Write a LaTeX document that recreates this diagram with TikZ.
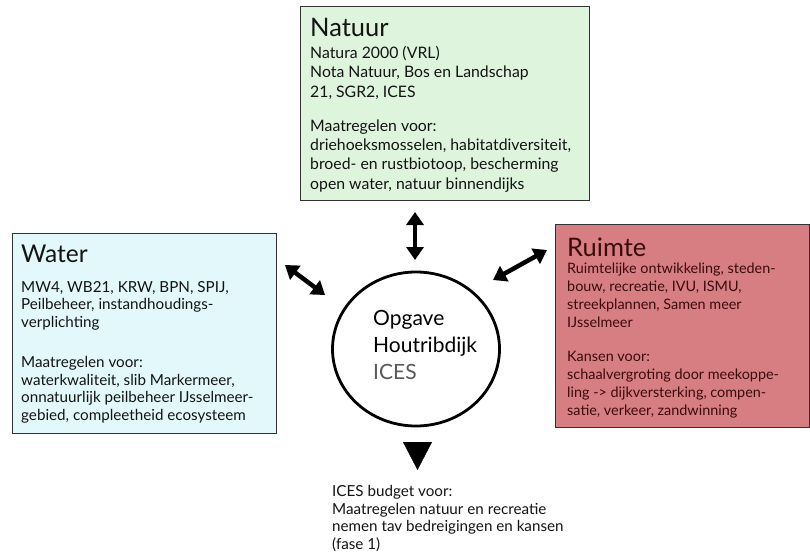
\documentclass[tikz,border=0pt]{standalone}
\usepackage{fontspec}
\setmainfont{Lato}
\usetikzlibrary{arrows.meta, shapes.geometric, positioning}
\definecolor{natuurgreen}{RGB}{222,244,221}
\definecolor{watercyan}{RGB}{226,248,250}
\definecolor{ruimtered}{RGB}{214,126,130}
\definecolor{ruimtetext}{RGB}{60,10,10}
\definecolor{boxline}{RGB}{50,50,50}
\definecolor{inktext}{RGB}{20,20,20}

\begin{document}
\begin{tikzpicture}[x=1pt, y=-1pt, text=inktext,
  themabox/.style={draw=boxline, line width=1.3pt, inner sep=0pt, anchor=north west},
  titletext/.style={font=\fontsize{25.5}{28}\selectfont, inner sep=0pt, anchor=north west},
  bodytext/.style={font=\fontsize{15.2}{17.7}\selectfont, align=left, inner sep=0pt, anchor=north west},
  linkarrow/.style={line width=4.5pt, {Triangle[length=13pt,width=17pt]}-{Triangle[length=13pt,width=17pt]}},
  downtip/.style={line width=0.4pt, -{Triangle[length=28pt,width=29pt]}}]
  \useasboundingbox (0,0) rectangle (810,556);

  % de drie themablokken
  \node[themabox, fill=natuurgreen, minimum width=289pt, minimum height=194pt] (natuur) at (300,6) {};
  \node[themabox, fill=watercyan, minimum width=264pt, minimum height=200pt] (water) at (12,233) {};
  \node[themabox, fill=ruimtered, minimum width=254pt, minimum height=203pt] (ruimte) at (555,224) {};

  % Natuur
  \node[titletext] (natuurtitle) at (310,18.5) {Natuur};
  \node[bodytext, font=\fontsize{15.8}{19.3}\selectfont] (natuurbody) at (310,46)
    {Natura 2000 (VRL)\\Nota Natuur, Bos en Landschap\\21, SGR2, ICES\\[15pt]
     Maatregelen voor:\\driehoeksmosselen, habitatdiversiteit,\\broed- en rustbiotoop, bescherming\\open water, natuur binnendijks};

  % Water
  \node[titletext, font=\fontsize{24.5}{28}\selectfont] (watertitle) at (21,244.5) {Water};
  \node[bodytext] (waterbody) at (21,281)
    {MW4, WB21, KRW, BPN, SPIJ,\\Peilbeheer, instandhoudings-\\verplichting\\[22pt]
     Maatregelen voor:\\waterkwaliteit, slib Markermeer,\\onnatuurlijk peilbeheer IJsselmeer-\\gebied, compleetheid ecosysteem};

  % Ruimte
  \node[titletext, text=ruimtetext] (ruimtetitle) at (567,237.5) {Ruimte};
  \node[bodytext, text=ruimtetext, font=\fontsize{14.4}{18}\selectfont] (ruimtebody) at (567,263)
    {Ruimtelijke ontwikkeling, steden-\\bouw, recreatie, IVU, ISMU,\\streekplannen, Samen meer\\IJsselmeer\\[16pt]
     Kansen voor:\\schaalvergroting door meekoppe-\\ling -> dijkversterking, compen-\\satie, verkeer, zandwinning};

  % opgave in het midden
  \node[draw=black, ellipse, line width=2.8pt, minimum width=167pt, minimum height=154pt] (opgave) at (416,349) {};
  \node[inner sep=0pt, anchor=north west, align=left, text=black, font=\fontsize{21}{27}\selectfont] (opgavetext) at (373,310)
    {Opgave\\Houtribdijk\\{\color{black!65}ICES}};

  % budget onderaan
  \node[bodytext] (budget) at (332,485)
    {ICES budget voor:\\Maatregelen natuur en recreatie\\nemen tav bedreigingen en kansen\\(fase 1)};

  % pijlen
  \coordinate (natuurend) at (415,212);
  \coordinate (natuuropg) at (415,260);
  \coordinate (waterend) at (285,265);
  \coordinate (wateropg) at (325,295);
  \coordinate (ruimteend) at (547,250);
  \coordinate (ruimteopg) at (493,280);
  \coordinate (budgettop) at (417.5,442);
  \coordinate (budgettip) at (417.5,470);
  \draw[linkarrow] (natuurend) -- (natuuropg);
  \draw[linkarrow] (waterend) -- (wateropg);
  \draw[linkarrow] (ruimteend) -- (ruimteopg);
  \draw[downtip] (budgettop) -- (budgettip);
\end{tikzpicture}
\end{document}
